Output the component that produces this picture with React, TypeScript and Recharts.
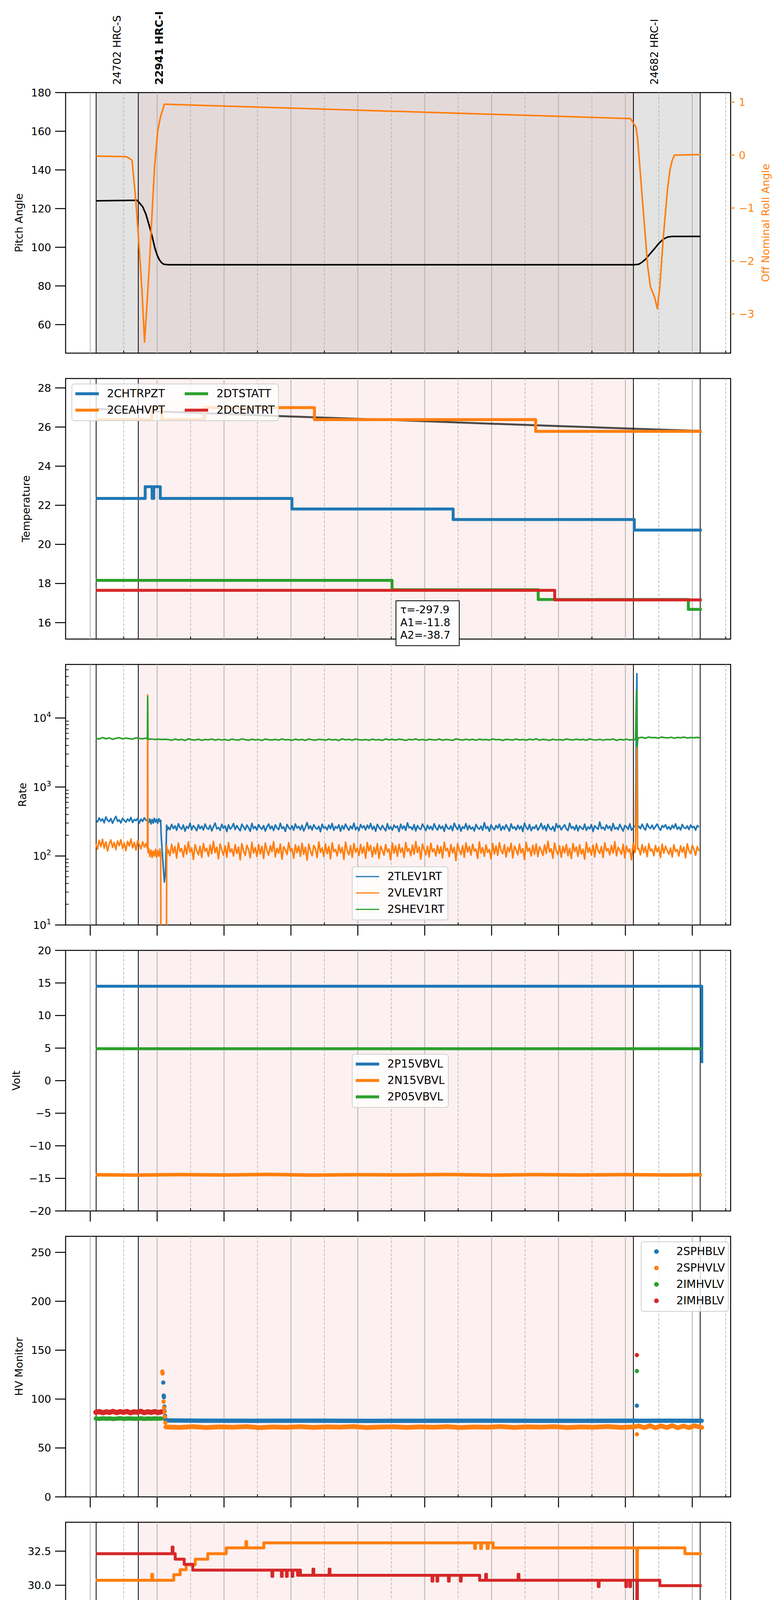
import React from 'react';
import { ComposedChart, Line, Scatter, XAxis, YAxis, ReferenceArea, ReferenceLine, Legend } from 'recharts';

const FONT = '"DejaVu Sans", sans-serif';
const BLUE = '#1f77b4';
const ORANGE = '#ff7f0e';
const GREEN = '#2ca02c';
const RED = '#d62728';

// ---------- time axis (minutes after 22:00) ----------
const X_DOMAIN: [number, number] = [-22.1, 574.4];
const X_TICKS = [0, 30, 60, 90, 120, 150, 180, 210, 240, 270, 300, 330, 360, 390, 420, 450, 480, 510, 540, 570];
const HOUR_LINES = [0, 60, 120, 180, 240, 300, 360, 420, 480, 540];
const HALF_LINES = [30, 90, 150, 210, 270, 330, 390, 450, 510, 570];
const HOUR_LABELS = ['22h', '23h', '00h', '01h', '02h', '03h', '04h', '05h', '06h', '07h'];
const HALF_LABEL = '30';
const DATE_LABEL = '2021-05-20 (140)';

// ---------- observations ----------
const OBS_EDGES = [5.3, 43.1, 487.2, 547.1];
const OBS_NAMES = ['24702 HRC-S', '22941 HRC-I', '24682 HRC-I'];
const OBS_BOLD = [false, true, false];
const OBS_LABEL_SHIFT = 18.8;

// ---------- panel 1: pitch / roll ----------
const PITCH = [[5.3, 124], [42, 124.3], [44, 123], [47, 121], [50, 117], [52, 113], [54, 109], [56, 104.5], [58, 99.5], [60, 96], [62, 93.5], [64, 92], [66, 91.2], [70, 90.95], [488, 90.95], [492, 91.2], [495, 92.3], [498, 93.8], [502, 96.5], [506, 99.2], [510, 102], [514, 104.2], [518, 105.3], [522, 105.6], [547.5, 105.6]];
const ROLL = [[5.3, -0.02], [32, -0.03], [35, -0.06], [37.5, -0.1], [41, -0.89], [44, -1.79], [46.4, -2.55], [48.7, -3.53], [50.9, -2.82], [53.2, -2.01], [55.4, -1.12], [57.7, -0.22], [60.5, 0.45], [63, 0.72], [66.5, 0.96], [484.5, 0.69], [489.5, 0.53], [491, 0.3], [494, -0.5], [497, -1.3], [500, -2.1], [502.5, -2.49], [506, -2.67], [508.7, -2.9], [511, -2.46], [514, -1.56], [517.7, -0.66], [520, -0.28], [522, -0.1], [524, 0.0], [547.5, 0.01]];
const PITCH_TICKS = [60, 80, 100, 120, 140, 160, 180];
const ROLL_TICKS = [-3, -2, -1, 0, 1];

// ---------- panel 2: temperature ----------
const TEMP_FIT = [[5, 26.93], [60, 26.8], [120, 26.67], [180, 26.54], [240, 26.42], [300, 26.3], [360, 26.17], [420, 26.05], [480, 25.93], [548.5, 25.8]];
const T_CHTRPZT = [[5, 22.35], [49.3, 22.95], [55.5, 22.35], [57, 22.95], [62.8, 22.35], [180.9, 21.81], [325.5, 21.27], [488, 20.73], [548.5, 20.73]];
const T_CEAHVPT = [[5, 26.38], [55.2, 26.99], [64.1, 26.38], [102.3, 26.99], [201.1, 26.38], [399.5, 25.78], [548.5, 25.78]];
const T_DTSTATT = [[5, 18.16], [270.7, 17.68], [401.8, 17.18], [536.5, 16.68], [548.5, 16.68]];
const T_DCENTRT = [[5, 17.65], [416.6, 17.16], [548.5, 17.16]];
const TEMP_TICKS = [16, 18, 20, 22, 24, 26, 28];
const FIT_TEXT = ['\u03c4=-297.9', 'A1=-11.8', 'A2=-38.7'];

// ---------- panel 3: rates ----------
const RATE_BLUE_PRE = [335, 312, 356, 322, 345, 303, 368, 330, 316, 349, 298, 340, 375, 318, 333, 301, 352, 327, 309, 344, 320, 362, 306, 338, 325, 350, 300, 343, 317, 358, 329];
const RATE_BLUE_MID = [[51.5, 330], [52.5, 305], [53.5, 345], [54.5, 292], [55.5, 338], [56.5, 300], [57.5, 352], [58.5, 310], [59.5, 340], [60.5, 298], [61.5, 348], [62.5, 315], [63.2, 330], [63.6, 200], [64.5, 120], [65.5, 70], [66.5, 42], [67.5, 60], [68, 120], [68.5, 280], [69.3, 240]];
const RATE_BLUE_POST = [
  262, 241, 287, 250, 274, 236, 293, 258, 245, 281, 229, 268, 252, 299, 240, 275, 257, 233, 284, 249,
  270, 238, 291, 255, 244, 279, 231, 266, 300, 247, 259, 235, 288, 253, 272, 226, 283, 246, 261, 295,
  242, 276, 251, 232, 289, 264, 239, 281, 256, 228, 297, 249, 267, 237, 285, 258, 244, 276, 230, 263,
  291, 247, 271, 234, 282, 255, 241, 298, 250, 265, 227, 286, 259, 243, 274, 236, 292, 254, 268, 240,
  279, 231, 262, 305, 248, 273, 238, 284, 257, 245, 270, 225, 289, 253, 264, 239, 281, 249, 296, 235,
  267, 252, 283, 229, 275, 244, 290, 258, 236, 271, 247, 299, 241, 263, 233, 286, 255, 274, 238, 280,
  251, 296, 243, 269, 228, 287, 260, 240, 277, 253, 232, 294, 246, 266, 237, 281, 258, 271, 226, 289,
  248, 273, 235, 302, 256, 264, 241, 285, 230, 276, 252, 243, 290, 261, 234, 279, 247, 268, 239, 293,
  257, 238, 281, 250, 270, 227, 288, 254, 245, 274, 233, 299, 263, 242, 283, 229, 266, 251, 295, 240,
  276, 246, 262, 231, 287, 258, 244, 271, 236, 304, 249, 267, 228, 282, 255, 240, 277, 253, 289, 235,
  269, 243, 284, 256, 230, 292, 251, 265, 238, 279, 246, 271, 226, 300, 259, 242, 286, 233, 264, 250,
  281, 237, 259, 296, 245, 274, 232, 288, 253, 241, 268, 229, 295, 257, 276, 239, 262, 284, 247, 234,
  299, 252, 266, 240, 280, 231, 272, 255, 243, 290, 236, 263, 248, 285, 227, 274, 258, 244, 311, 249,
  262, 238, 283, 251, 270, 233, 296, 246, 259, 241, 288, 254, 230, 276, 265, 243, 292, 237, 257, 272];
const RATE_BLUE_SPIKE = [[489, 265], [490.3, 44000], [491, 258]];
const RATE_BLUE_END = [270, 248, 289, 255, 238, 294, 262, 251, 280, 244, 268, 290, 257, 236, 275, 260, 284, 247, 266, 241, 278, 253, 292, 245, 263, 239, 286, 258, 250, 273, 242, 281, 256, 268, 237, 276, 262];

const RATE_ORANGE_PRE = [150, 126, 168, 137, 175, 130, 160, 118, 149, 171, 133, 157, 124, 165, 141, 172, 128, 154, 120, 163, 139, 176, 131, 158, 122, 167, 145, 127, 161, 135, 152];
const RATE_ORANGE_MID = [[50.5, 140], [51.3, 130], [51.5, 21600], [51.8, 112], [52.5, 128], [53.5, 98], [54.5, 122], [55.5, 95], [56.5, 118], [57.5, 100], [58.5, 125], [59.5, 96], [60.5, 120], [61.5, 99], [62.5, 126], [63.2, 104], [63.4, 3], [68.3, 3], [68.6, 140], [69.3, 110]];
const RATE_ORANGE_POST = [
  122, 101, 148, 110, 137, 93, 155, 116, 128, 97, 142, 106, 160, 113, 131, 89, 146, 119, 104, 139,
  95, 152, 117, 129, 99, 144, 108, 163, 112, 134, 91, 149, 121, 103, 140, 96, 157, 114, 127, 100,
  146, 109, 135, 88, 151, 118, 102, 143, 125, 94, 158, 111, 132, 98, 147, 107, 138, 92, 154, 120,
  103, 141, 115, 161, 97, 130, 110, 149, 90, 136, 123, 105, 156, 117, 128, 93, 145, 112, 139, 99,
  153, 106, 134, 87, 148, 119, 101, 142, 126, 95, 160, 113, 131, 98, 150, 108, 137, 91, 155, 116,
  124, 100, 145, 111, 133, 89, 159, 120, 104, 141, 96, 152, 114, 129, 102, 147, 109, 136, 93, 157,
  118, 142, 97, 134, 107, 151, 92, 138, 121, 103, 146, 115, 126, 88, 154, 110, 140, 99, 148, 113,
  131, 95, 157, 117, 128, 101, 144, 106, 162, 112, 135, 90, 149, 123, 104, 139, 97, 153, 115, 127,
  100, 143, 109, 136, 94, 158, 119, 129, 98, 147, 111, 133, 86, 151, 122, 105, 141, 96, 155, 114,
  137, 103, 148, 118, 126, 92, 160, 110, 132, 99, 145, 113, 124, 91, 152, 107, 140, 102, 156, 120,
  108, 146, 97, 134, 115, 153, 94, 139, 123, 104, 149, 112, 128, 89, 157, 117, 130, 100, 143, 106,
  150, 98, 136, 121, 102, 145, 109, 163, 114, 127, 93, 154, 119, 105, 141, 96, 138, 111, 147, 101,
  129, 92, 152, 116, 135, 99, 146, 107, 125, 90, 158, 113, 132, 103, 144, 97, 151, 120, 109, 137,
  95, 155, 118, 128, 104, 142, 110, 161, 100, 134, 121, 106, 148, 94, 139, 115, 126, 88, 153, 112];
const RATE_ORANGE_SPIKE = [[489, 118], [490.3, 3800], [491, 126]];
const RATE_ORANGE_END = [128, 104, 146, 112, 137, 98, 151, 118, 126, 101, 142, 115, 133, 95, 149, 110, 139, 121, 106, 131, 97, 145, 116, 124, 100, 140, 113, 135, 94, 150, 119, 108, 143, 125, 102, 137, 118];

const RATE_GREEN_PRE = [5100, 4950, 5200, 5000, 5150, 4900, 5080, 5180, 4980, 5120, 5020, 4940, 5160, 5060, 4990, 5110];
const RATE_GREEN_MID = [[50.5, 5050], [51.3, 5000], [51.5, 20200], [51.8, 4900], [55, 4960], [58, 4880], [61, 4940], [64, 4870], [67, 4920]];
const RATE_GREEN_POST = [
  4870, 4760, 4950, 4810, 4900, 4730, 4980, 4840, 4790, 4920, 4750, 4890, 4820, 4960, 4770, 4910, 4800, 4870, 4740, 4940,
  4830, 4780, 4990, 4850, 4760, 4920, 4810, 4880, 4720, 4950, 4840, 4790, 4900, 4770, 4970, 4820, 4860, 4750, 4930, 4800,
  4890, 4740, 4960, 4830, 4780, 4910, 4850, 4760, 4940, 4810, 4870, 4730, 4990, 4820, 4900, 4770, 4950, 4840, 4790, 4880,
  4760, 4930, 4810, 4870, 4750, 4960, 4820, 4900, 4780, 4940, 4850, 4740, 4910, 4830, 4970, 4790, 4880, 4760, 4920, 4840,
  4800, 4950, 4770, 4890, 4830, 4740, 4980, 4860, 4790, 4920, 4810, 4900, 4750, 4940, 4820, 4870, 4780, 4960, 4840, 4890,
  4730, 4910, 4850, 4790, 4950, 4810, 4880, 4760, 4930, 4820, 4990, 4770, 4900, 4840, 4750, 4920, 4800, 4870, 4780, 4950,
  4860, 4790, 4940, 4820, 4890, 4750, 4970, 4830, 4800, 4910, 4770, 4880, 4840, 4960, 4740, 4900, 4810, 4930, 4790, 4870];
const RATE_GREEN_SPIKE = [[489, 4860], [490, 25000], [490.6, 3800], [491.2, 5150]];
const RATE_GREEN_END = [5150, 5250, 5080, 5300, 5180, 5220, 5110, 5280, 5200, 5140, 5260, 5090, 5230, 5170, 5290, 5120, 5210, 5160, 5240, 5190];
const RATE_TICKS = [10, 20, 30, 40, 50, 60, 70, 80, 90, 100, 200, 300, 400, 500, 600, 700, 800, 900, 1000, 2000, 3000, 4000, 5000, 6000, 7000, 8000, 9000, 10000, 20000, 30000, 40000, 50000];

// ---------- panel 4: voltages ----------
const V_P15 = [[5, 14.5], [548.5, 2.7]];
const V_N15 = [[5, -14.45], [40, -14.5], [80, -14.42], [120, -14.48], [160, -14.4], [200, -14.5], [240, -14.44], [280, -14.47], [320, -14.41], [360, -14.5], [400, -14.43], [440, -14.48], [480, -14.42], [520, -14.49], [548.5, -14.45]];
const V_P05 = [[5, 4.9], [548.5, 4.9]];
const VOLT_TICKS = [-20, -15, -10, -5, 0, 5, 10, 15, 20];

// ---------- panel 5: HV monitor ----------
const HV_RED_BAND = [86.5, 87.3, 86.0, 87.0, 86.3, 87.5, 86.1, 87.2, 86.4, 87.4, 86.0, 87.0, 86.6, 87.6, 86.1, 87.1, 86.3, 87.3, 86.2, 87.0];
const HV_GREEN_BAND = [80.1, 79.8, 80.3, 79.9, 80.2, 79.7, 80.0, 80.4, 79.8, 80.1, 80.2, 79.9, 80.0, 80.3, 79.8, 80.1, 79.9, 80.2, 80.0, 80.1];
const HV_BLUE_BAND = [[67.5, 78.2], [100, 77.9], [150, 77.8], [200, 77.9], [250, 77.7], [300, 77.8], [350, 77.9], [400, 77.8], [450, 77.8], [489, 77.9], [491, 77.8], [520, 77.9], [548.5, 77.8]];
const HV_ORANGE_BAND = [[67.8, 71.5], [80, 71.0], [92, 71.8], [104, 70.9], [116, 71.6], [128, 71.2], [140, 71.9], [152, 70.8], [164, 71.5], [176, 71.1], [188, 71.8], [200, 71.0], [212, 71.6], [224, 71.3], [236, 71.9], [248, 70.9], [260, 71.4], [272, 71.7], [284, 71.0], [296, 71.6], [308, 71.2], [320, 71.8], [332, 70.9], [344, 71.5], [356, 71.2], [368, 71.9], [380, 71.0], [392, 71.6], [404, 71.3], [416, 71.8], [428, 70.9], [440, 71.5], [452, 71.2], [464, 71.9], [476, 71.0], [488, 71.6], [492, 72.5], [497, 70.8], [502, 72.8], [507, 70.6], [512, 72.6], [517, 70.9], [522, 72.9], [527, 70.7], [532, 72.4], [537, 70.8], [542, 72.7], [548.5, 71.0]];
const HV_BLUE_DOTS = [[65.5, 116.9], [65.9, 103.5], [66.1, 101.9], [66.5, 92.3], [66.8, 87.5], [67.1, 83], [67.3, 80], [490.3, 93.3]];
const HV_ORANGE_DOTS = [[64.6, 128.2], [64.9, 126.2], [65.8, 97.4], [66.2, 91.2], [66.6, 87.1], [67, 82], [67.4, 75.9], [490.3, 64]];
const HV_GREEN_DOTS = [[490.3, 128.7]];
const HV_RED_DOTS = [[490.3, 145]];
const HV_TICKS = [0, 50, 100, 150, 200, 250];

// ---------- panel 6: detector temperatures ----------
const D_SPINATM = [[5, 16.39], [102, 17.05], [102.8, 16.39], [119.8, 17.01], [548.5, 17.01]];
const D_SPHVATM = [[5, 30.36], [55.2, 30.8], [55.9, 30.36], [74.9, 30.77], [80.7, 31.14], [86, 31.5], [94.2, 31.91], [105.4, 32.31], [122, 32.74], [139.6, 33.2], [140.3, 32.74], [155.7, 33.11], [344.8, 32.7], [345.5, 33.11], [350.2, 32.7], [350.9, 33.11], [356, 32.7], [357, 33.11], [361.4, 32.74], [490.3, 30.3], [490.8, 32.74], [533.4, 32.31], [548.5, 32.31]];
const D_IMINATM = [[5, 18.29], [326.4, 17.64], [490.3, 14.8], [490.8, 17.64], [546.8, 16.94], [548.5, 16.94]];
const D_IMHVATM = [[5, 32.31], [73.5, 32.8], [74.2, 32.31], [76.2, 31.91], [84.3, 31.53], [92, 31.11], [163, 30.65], [163.7, 31.11], [171.5, 30.65], [172.2, 31.11], [176, 30.65], [176.7, 31.11], [181, 30.65], [181.7, 31.11], [186, 30.73], [187, 31.11], [188.5, 30.73], [199.8, 31.18], [200.5, 30.73], [214.3, 31.18], [215, 30.73], [306.6, 30.3], [307.3, 30.73], [311, 30.3], [311.7, 30.73], [321.3, 30.3], [322, 30.73], [332, 30.3], [332.7, 30.73], [349.3, 30.36], [354.7, 30.8], [355.4, 30.36], [383.8, 30.8], [384.5, 30.36], [455.7, 29.9], [456.4, 30.36], [480.4, 29.9], [481.1, 30.36], [484, 29.9], [484.7, 30.36], [490.3, 16.35], [490.8, 30.36], [510.9, 29.97], [548.5, 29.97]];
const DET_TICKS = [17.5, 20, 22.5, 25, 27.5, 30, 32.5];

// ---------- panel 7: FEA temperatures ----------
const F_FHTRMZT = [[5, 20.75], [140, 20.21], [216, 19.7], [296.1, 19.18], [385.9, 18.65], [491.5, 18.16], [548.5, 18.16]];
const F_FRADPYT = [[5, 16.25], [13, 16.68], [68.5, 16.19], [90.9, 15.72], [134.6, 15.24], [195.2, 14.78], [263.5, 14.33], [339.8, 13.87], [429.6, 13.42], [548.5, 13.42]];
const F_FEPRATM = [[5, 22.42], [5.8, 23.14], [6.5, 22.42], [7.4, 23.14], [8.1, 22.42], [9.1, 23.14], [9.8, 22.42], [10.8, 23.14], [11.5, 22.42], [12.6, 23.14], [13.4, 22.42], [14.6, 23.14], [15.4, 22.42], [16.5, 23.14], [17.4, 22.42], [18.6, 23.14], [19.5, 22.42], [21.5, 23.14], [29.5, 22.42], [30.5, 23.14], [101, 22.42], [218.6, 21.7], [337, 21.01], [481, 20.32], [548.5, 20.32]];
const F_FE00ATM = [[5, 21.13], [13.5, 21.4], [14.2, 21.13], [61, 20.5], [61.8, 21.13], [81, 20.5], [81.8, 21.13], [107.5, 20.8], [108.2, 21.13], [115.2, 20.81], [121, 20.5], [121.7, 20.81], [127, 21.75], [127.7, 20.81], [136.3, 21.15], [137, 20.81], [145.7, 21.15], [146.4, 20.81], [148.7, 21.4], [149.4, 20.81], [167, 20.45], [167.7, 20.81], [168.8, 20.52], [189.3, 19.56], [190, 20.52], [191.3, 19.88], [192, 20.52], [204.7, 20.8], [205.4, 20.52], [219, 20.8], [219.7, 20.52], [220.7, 20.2], [222, 20.52], [223, 20.2], [230, 20.8], [230.7, 20.2], [231.8, 20.8], [232.5, 20.2], [241.5, 20.52], [242.2, 20.2], [246, 20.52], [246.7, 20.2], [251.6, 20.52], [252.3, 20.2], [259.3, 19.88], [260, 20.52], [260.7, 20.2], [270.3, 19.56], [271, 20.2], [282, 19.91], [283, 20.2], [283.7, 19.56], [284.4, 19.91], [305.8, 19.56], [306.5, 19.91], [314.5, 19.56], [315.2, 19.91], [319, 20.2], [319.7, 19.91], [334.7, 20.2], [335.4, 19.91], [339.7, 21.1], [340.4, 19.91], [346.4, 19.61], [353.7, 19.91], [354.4, 19.61], [358.8, 19.3], [359.5, 19.61], [361.4, 19.91], [362.1, 19.61], [363.8, 19.3], [364.5, 19.61], [384, 20.52], [384.7, 19.61], [387.6, 19.91], [388.3, 19.61], [396.6, 19.91], [397.3, 19.61], [398.6, 20.2], [399.3, 19.61], [401, 19.3], [401.7, 19.61], [408.4, 19.3], [409.1, 19.61], [416.7, 19.0], [417.4, 19.31], [434.5, 18.68], [435.2, 19.31], [436, 19.91], [436.7, 19.31], [440.2, 19.0], [440.9, 19.31], [445.2, 20.52], [445.9, 19.31], [477.7, 19.6], [478.4, 19.31], [490.3, 24.5], [490.8, 19.31], [492, 19.0], [492.7, 19.31], [498.8, 19.02], [510.5, 19.35], [511.2, 19.02], [546, 19.3], [546.7, 19.02], [548.5, 19.02]];
const FEA_TICKS = [14, 16, 18, 20, 22];

// ---------- legends ----------
const TEMP_NAMES = ['2CHTRPZT', '2CEAHVPT', '2DTSTATT', '2DCENTRT'];
const RATE_NAMES = ['2TLEV1RT', '2VLEV1RT', '2SHEV1RT'];
const VOLT_NAMES = ['2P15VBVL', '2N15VBVL', '2P05VBVL'];
const HV_NAMES = ['2SPHBLV', '2SPHVLV', '2IMHVLV', '2IMHBLV'];
const DET_NAMES = ['2SPINATM', '2SPHVATM', '2IMINATM', '2IMHVATM'];
const FEA_NAMES = ['2FHTRMZT', '2FRADPYT', '2FEPRATM', '2FE00ATM'];
const SERIES_COLORS = [BLUE, ORANGE, GREEN, RED];

// ---------- layout ----------
const PLOT_H = 667;
const PANEL_TOPS = [237, 969, 1701, 2433, 3165, 3897, 4629];
const M_TOP = 20;

const pts = (arr: number[][]) => arr.map(([t, v]) => ({ t, v }));
const seg = (start: number, step: number, vals: number[]) => vals.map((v, i) => ({ t: start + i * step, v }));
const fmt = (v: number) => (v < 0 ? '\u2212' + Math.abs(v) : String(v));
const fmt1 = (v: number) => v.toFixed(1);

const RATE_BLUE = [...seg(5, 1.5, RATE_BLUE_PRE), ...pts(RATE_BLUE_MID), ...seg(70, 1.5, RATE_BLUE_POST), ...pts(RATE_BLUE_SPIKE), ...seg(492, 1.5, RATE_BLUE_END)];
const RATE_ORANGE = [...seg(5, 1.5, RATE_ORANGE_PRE), ...pts(RATE_ORANGE_MID), ...seg(70, 1.5, RATE_ORANGE_POST), ...pts(RATE_ORANGE_SPIKE), ...seg(492, 1.5, RATE_ORANGE_END)];
const RATE_GREEN = [...seg(5, 3, RATE_GREEN_PRE), ...pts(RATE_GREEN_MID), ...seg(70, 3, RATE_GREEN_POST), ...pts(RATE_GREEN_SPIKE), ...seg(492, 2.9, RATE_GREEN_END)];

// ---------- helpers ----------
function makeXTick(major: boolean, labels: boolean) {
  return (p: any) => {
    const { x, y, payload } = p;
    const v = payload.value;
    const isHour = v % 60 === 0;
    return (
      <g>
        {isHour
          ? (major ? <line x1={x} x2={x} y1={y} y2={y + 27} stroke="#000" strokeWidth={2.5} /> : null)
          : <line x1={x} x2={x} y1={y} y2={y - 7} stroke="#000" strokeWidth={2} />}
        {labels && isHour ? (
          <text x={x} y={y + 59} textAnchor="middle" fontSize={27} fontFamily={FONT} fill="#000">{HOUR_LABELS[v / 60]}</text>
        ) : null}
        {labels && !isHour ? (
          <text x={x} y={y + 20} textAnchor="middle" fontSize={18} fontFamily={FONT} fill="#000">{HALF_LABEL}</text>
        ) : null}
      </g>
    );
  };
}

const LogTick = (p: any) => {
  const { x, y, payload } = p;
  const v = payload.value;
  const e = Math.log10(v);
  const re = Math.round(e);
  if (Math.abs(e - re) < 1e-6) {
    return (
      <g>
        <line x1={x} x2={x - 27} y1={y} y2={y} stroke="#000" strokeWidth={2.5} />
        <text x={x - 37} y={y + 10} textAnchor="end" fontSize={27} fontFamily={FONT} fill="#000">
          10<tspan dy={-12} fontSize={19}>{re}</tspan>
        </text>
      </g>
    );
  }
  return <line x1={x} x2={x + 8} y1={y} y2={y} stroke="#000" strokeWidth={1.8} />;
};

const YTitle = (p: any) => {
  const { text, cx, cy, color } = p;
  return (
    <text x={cx} y={cy} transform={`rotate(-90 ${cx} ${cy})`} textAnchor="middle" dy="0.35em" fontSize={27} fontFamily={FONT} fill={color || '#000'}>
      {text}
    </text>
  );
};

const XTitle = (p: any) => {
  const { text, cx, cy } = p;
  return <text x={cx} y={cy} textAnchor="middle" fontSize={33} fontFamily={FONT} fill="#000">{text}</text>;
};

const ObsLabel = (p: any) => {
  const vb = p.viewBox || {};
  const x = vb.x;
  const y = (vb.y || 237) - 20;
  if (x === undefined) return null;
  return (
    <text x={x} y={y} transform={`rotate(-90 ${x} ${y})`} textAnchor="start" dy="0.35em" fontSize={27} fontFamily={FONT} fontWeight={p.bold ? 'bold' : 'normal'} fill="#000">
      {p.text}
    </text>
  );
};

function backdrop(isTop: boolean) {
  const els: any[] = [];
  for (let i = 0; i < OBS_EDGES.length - 1; i++) {
    const fill = isTop ? (i === 1 ? '#e4d9d9' : '#e3e3e3') : (i === 1 ? '#fdf0f0' : null);
    if (fill) {
      els.push(<ReferenceArea key={'sh' + i} x1={OBS_EDGES[i]} x2={OBS_EDGES[i + 1]} fill={fill} fillOpacity={1} stroke="none" ifOverflow="visible" />);
    }
  }
  HOUR_LINES.forEach((h) => els.push(<ReferenceLine key={'h' + h} x={h} stroke="#b0b0b0" strokeWidth={2} />));
  HALF_LINES.forEach((h) => els.push(<ReferenceLine key={'hh' + h} x={h} stroke="#b0b0b0" strokeWidth={1.6} strokeDasharray="7 4" />));
  OBS_EDGES.forEach((e) => els.push(<ReferenceLine key={'ob' + e} x={e} stroke="#000" strokeWidth={2} />));
  return els;
}

function frame(y1: number, y2: number) {
  return <ReferenceArea key="frame" x1={X_DOMAIN[0]} x2={X_DOMAIN[1]} y1={y1} y2={y2} fill="none" stroke="#000" strokeWidth={2.5} ifOverflow="visible" />;
}

function xAxis(major: boolean, labels: boolean, height: number, title?: any) {
  return (
    <XAxis
      type="number"
      dataKey="t"
      domain={X_DOMAIN}
      ticks={X_TICKS}
      interval={0}
      allowDataOverflow
      height={height}
      tickSize={0}
      tickMargin={0}
      tickLine={false}
      axisLine={false}
      tick={makeXTick(major, labels)}
      label={title}
    />
  );
}

const yCommon: any = {
  width: 168,
  tickSize: 27,
  tickMargin: 10,
  axisLine: false,
  tickLine: { stroke: '#000', strokeWidth: 2.5 },
  tick: { fill: '#000', fontSize: 27, fontFamily: FONT },
  allowDataOverflow: true,
  interval: 0,
};

function series(key: string, data: any[], color: string, w = 7.5, type: any = 'stepAfter') {
  return (
    <Line
      key={key}
      data={data}
      dataKey="v"
      type={type}
      stroke={color}
      strokeWidth={w}
      dot={false}
      activeDot={false}
      isAnimationActive={false}
      strokeLinejoin="round"
      legendType="none"
    />
  );
}

function LegendBox({ names, cols = 1, kind = 'line', lw = 7.5 }: any) {
  const items = names.map((n: string, i: number) => ({ name: n, color: SERIES_COLORS[i] }));
  const perCol = Math.ceil(items.length / cols);
  const columns: any[] = [];
  for (let c = 0; c < cols; c++) columns.push(items.slice(c * perCol, (c + 1) * perCol));
  return (
    <div style={{ display: 'flex', gap: 51, background: 'rgba(255,255,255,0.8)', border: '2px solid #d0d0d0', borderRadius: 7, padding: '3px 8px 5px 8px', fontFamily: FONT, fontSize: 28, color: '#000', whiteSpace: 'nowrap', boxSizing: 'border-box' }}>
      {columns.map((col, ci) => (
        <div key={ci} style={{ display: 'flex', flexDirection: 'column' }}>
          {col.map((it: any) => (
            <div key={it.name} style={{ display: 'flex', alignItems: 'center', height: 42 }}>
              <svg width={60} height={14} style={{ marginRight: 21, flex: 'none' }}>
                {kind === 'line'
                  ? <line x1={0} x2={60} y1={7} y2={7} stroke={it.color} strokeWidth={lw} />
                  : <circle cx={30} cy={7} r={6} fill={it.color} />}
              </svg>
              <span style={{ lineHeight: '42px' }}>{it.name}</span>
            </div>
          ))}
        </div>
      ))}
    </div>
  );
}

function legend(names: string[], left: number, top: number, opts: any = {}) {
  return (
    <Legend
      verticalAlign="middle"
      align="center"
      layout="horizontal"
      wrapperStyle={{ left, top, width: 'auto', height: 'auto' }}
      content={() => <LegendBox names={names} {...opts} />}
    />
  );
}

function Box({ index, xh, right = 129, children }: any) {
  const top = PANEL_TOPS[index] - M_TOP;
  const h = M_TOP + PLOT_H + xh;
  return (
    <div style={{ position: 'absolute', left: 0, top, width: 2000, height: h }}>
      <ComposedChart width={2000} height={h} margin={{ top: M_TOP, right, bottom: 0, left: 0 }}>
        {children}
      </ComposedChart>
    </div>
  );
}

const dot = (color: string) => (p: any) => <circle cx={p.cx} cy={p.cy} r={5.5} fill={color} />;

// ---------- panels ----------
function TopPanel() {
  const h = 237 + PLOT_H + 20;
  return (
    <div style={{ position: 'absolute', left: 0, top: 0, width: 2000, height: h }}>
      <ComposedChart width={2000} height={h} margin={{ top: 237, right: 0, bottom: 0, left: 0 }}>
        {xAxis(false, false, 20)}
        <YAxis {...yCommon} domain={[45.25, 180]} ticks={PITCH_TICKS} tickFormatter={fmt}
          label={<YTitle text="Pitch Angle" cx={49} cy={237 + PLOT_H / 2} />} />
        <YAxis yAxisId="roll" orientation="right" width={129} domain={[-3.74, 1.18]} ticks={ROLL_TICKS} interval={0}
          allowDataOverflow tickSize={10} tickMargin={11} axisLine={false} tickFormatter={fmt}
          tickLine={{ stroke: ORANGE, strokeWidth: 2.5 }} tick={{ fill: ORANGE, fontSize: 27, fontFamily: FONT }}
          label={<YTitle text="Off Nominal Roll Angle" cx={1961} cy={237 + PLOT_H / 2} color={ORANGE} />} />
        {backdrop(true)}
        {OBS_NAMES.map((n, i) => (
          <ReferenceLine key={'lab' + i} x={OBS_EDGES[i] + OBS_LABEL_SHIFT} stroke="none" ifOverflow="visible"
            label={<ObsLabel text={n} bold={OBS_BOLD[i]} />} />
        ))}
        {series('pitch', pts(PITCH), '#000', 4, 'linear')}
        <Line yAxisId="roll" data={pts(ROLL)} dataKey="v" type="linear" stroke={ORANGE} strokeWidth={4} dot={false}
          activeDot={false} isAnimationActive={false} strokeLinejoin="round" legendType="none" />
        {frame(45.25, 180)}
      </ComposedChart>
    </div>
  );
}

function TempPanel() {
  return (
    <Box index={1} xh={60}>
      {xAxis(false, false, 60)}
      <YAxis {...yCommon} domain={[15.16, 28.48]} ticks={TEMP_TICKS} tickFormatter={fmt}
        label={<YTitle text="Temperature" cx={67} cy={M_TOP + PLOT_H / 2} />} />
      {backdrop(false)}
      <Line data={pts(TEMP_FIT)} dataKey="v" type="linear" stroke="#000" strokeOpacity={0.7} strokeWidth={5} dot={false}
        activeDot={false} isAnimationActive={false} legendType="none" />
      {series('b', pts(T_CHTRPZT), BLUE)}
      {series('o', pts(T_CEAHVPT), ORANGE)}
      {series('g', pts(T_DTSTATT), GREEN)}
      {series('r', pts(T_DCENTRT), RED)}
      {frame(15.16, 28.48)}
      {legend(TEMP_NAMES, 183, 982 - (969 - M_TOP), { cols: 2 })}
    </Box>
  );
}

function RatePanel() {
  return (
    <Box index={2} xh={60}>
      {xAxis(true, false, 60)}
      <YAxis width={168} scale="log" domain={[10, 59700]} ticks={RATE_TICKS} interval={0} allowDataOverflow
        tickSize={0} tickMargin={0} tickLine={false} axisLine={false} tick={LogTick}
        label={<YTitle text="Rate" cx={58} cy={M_TOP + PLOT_H / 2} />} />
      {backdrop(false)}
      {series('b', RATE_BLUE, BLUE, 4, 'linear')}
      {series('o', RATE_ORANGE, ORANGE, 4, 'linear')}
      {series('g', RATE_GREEN, GREEN, 4, 'linear')}
      {frame(10, 59700)}
      {legend(RATE_NAMES, 901, 2218 - (1701 - M_TOP), { lw: 3 })}
    </Box>
  );
}

function VoltPanel() {
  return (
    <Box index={3} xh={60}>
      {xAxis(true, false, 60)}
      <YAxis {...yCommon} domain={[-20, 20]} ticks={VOLT_TICKS} tickFormatter={fmt}
        label={<YTitle text="Volt" cx={42} cy={M_TOP + PLOT_H / 2} />} />
      {backdrop(false)}
      {series('b', pts(V_P15), BLUE, 7.5, 'stepAfter')}
      {series('o', pts(V_N15), ORANGE, 9, 'linear')}
      {series('g', pts(V_P05), GREEN, 7.5, 'linear')}
      {frame(-20, 20)}
      {legend(VOLT_NAMES, 901, 2698 - (2433 - M_TOP))}
    </Box>
  );
}

function HVPanel() {
  const band = (key: string, data: any[], color: string, w: number) => (
    <Line key={key} data={data} dataKey="v" type="linear" stroke={color} strokeWidth={w} strokeLinecap="round"
      strokeLinejoin="round" dot={false} activeDot={false} isAnimationActive={false} legendType="none" />
  );
  return (
    <Box index={4} xh={60}>
      {xAxis(true, false, 60)}
      <YAxis {...yCommon} domain={[0, 266.4]} ticks={HV_TICKS} tickFormatter={fmt}
        label={<YTitle text="HV Monitor" cx={49} cy={M_TOP + PLOT_H / 2} />} />
      {backdrop(false)}
      {band('bb', pts(HV_BLUE_BAND), BLUE, 11)}
      {band('ob', pts(HV_ORANGE_BAND), ORANGE, 12)}
      {band('gb', seg(5, 3.1, HV_GREEN_BAND), GREEN, 11)}
      {band('rb', seg(5, 3.1, HV_RED_BAND), RED, 13)}
      <Scatter data={pts(HV_BLUE_DOTS)} dataKey="v" fill={BLUE} shape={dot(BLUE)} isAnimationActive={false} legendType="none" />
      <Scatter data={pts(HV_ORANGE_DOTS)} dataKey="v" fill={ORANGE} shape={dot(ORANGE)} isAnimationActive={false} legendType="none" />
      <Scatter data={pts(HV_GREEN_DOTS)} dataKey="v" fill={GREEN} shape={dot(GREEN)} isAnimationActive={false} legendType="none" />
      <Scatter data={pts(HV_RED_DOTS)} dataKey="v" fill={RED} shape={dot(RED)} isAnimationActive={false} legendType="none" />
      {frame(0, 266.4)}
      {legend(HV_NAMES, 1641, 3178 - (3165 - M_TOP), { kind: 'dot' })}
    </Box>
  );
}

function DetPanel() {
  return (
    <Box index={5} xh={60}>
      {xAxis(true, false, 60)}
      <YAxis {...yCommon} domain={[15.5, 34.62]} ticks={DET_TICKS} tickFormatter={fmt1}
        label={<YTitle text="Detector Temp" cx={41} cy={M_TOP + PLOT_H / 2} />} />
      {backdrop(false)}
      {series('b', pts(D_SPINATM), BLUE)}
      {series('o', pts(D_SPHVATM), ORANGE)}
      {series('g', pts(D_IMINATM), GREEN)}
      {series('r', pts(D_IMHVATM), RED)}
      {frame(15.5, 34.62)}
      {legend(DET_NAMES, 901, 4141 - (3897 - M_TOP))}
    </Box>
  );
}

function FeaPanel() {
  return (
    <Box index={6} xh={105}>
      {xAxis(true, true, 105, <XTitle text={DATE_LABEL} cx={1019.5} cy={M_TOP + PLOT_H + 96} />)}
      <YAxis {...yCommon} domain={[12.32, 23.9]} ticks={FEA_TICKS} tickFormatter={fmt}
        label={<YTitle text="FEA Temp" cx={67} cy={M_TOP + PLOT_H / 2} />} />
      {backdrop(false)}
      {series('b', pts(F_FHTRMZT), BLUE)}
      {series('o', pts(F_FRADPYT), ORANGE)}
      {series('g', pts(F_FEPRATM), GREEN)}
      {series('r', pts(F_FE00ATM), RED)}
      {frame(12.32, 23.9)}
      {legend(FEA_NAMES, 183, 5103 - (4629 - M_TOP))}
    </Box>
  );
}

export default function App() {
  return (
    <div style={{ position: 'absolute', left: 0, top: 0, width: 2000, height: 5400, background: '#fff', fontFamily: FONT }}>
      <TopPanel />
      <TempPanel />
      <RatePanel />
      <VoltPanel />
      <HVPanel />
      <DetPanel />
      <FeaPanel />
      <div style={{ position: 'absolute', left: 1013, top: 1537, width: 164, height: 117, border: '2.5px solid #000', background: '#fff', boxSizing: 'border-box', fontFamily: FONT, fontSize: 27, lineHeight: '32.5px', padding: '6px 0 0 10px', color: '#000' }}>
        {FIT_TEXT.map((l) => <div key={l}>{l}</div>)}
      </div>
    </div>
  );
}
